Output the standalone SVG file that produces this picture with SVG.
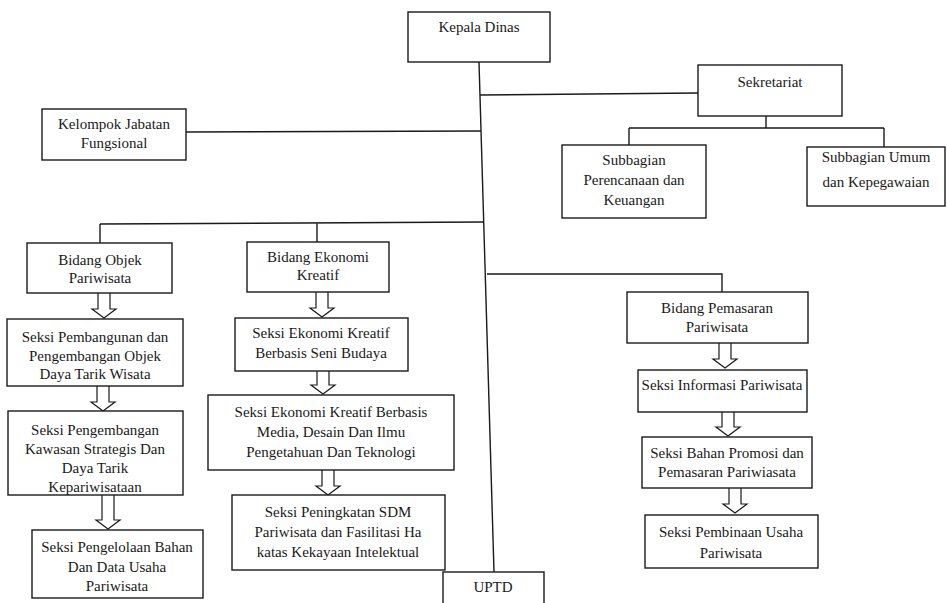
<svg xmlns="http://www.w3.org/2000/svg" width="947" height="603" viewBox="0 0 947 603">
<style>
.box{fill:#fff;stroke:#1a1a1a;stroke-width:1.4}
.ln{fill:none;stroke:#1a1a1a;stroke-width:1.4}
.arr{fill:#fff;stroke:#1a1a1a;stroke-width:1.2;stroke-linejoin:miter}
text{font-family:'Liberation Serif','DejaVu Serif',serif;font-size:15px;fill:#1a1a1a;text-anchor:middle}
</style>
<rect width="947" height="603" fill="#fff"/>
<g id="connectors">
<path class="ln" d="M479,62 L494,572"/>
<path class="ln" d="M480,95 L698,93"/>
<path class="ln" d="M766,116 V128 M629,128 H884 M629,128 V145 M884,128 V147"/>
<path class="ln" d="M186,132 L481,131"/>
<path class="ln" d="M100,224 L484,222 M100,224 V243 M317,223 V242"/>
<path class="ln" d="M487,274 H722 V292"/>
<path class="arr" d="M98,293 V309 H92 L104,318 L116,309 H110 V293"/>
<path class="arr" d="M97,386 V402 H91 L103,411 L115,402 H109 V386"/>
<path class="arr" d="M102,495 V520 H96 L108,529 L120,520 H114 V495"/>
<path class="arr" d="M316,292 V308 H310 L322,317 L334,308 H328 V292"/>
<path class="arr" d="M317,371 V385 H311 L323,394 L335,385 H329 V371"/>
<path class="arr" d="M322,470 V486 H316 L328,495 L340,486 H334 V470"/>
<path class="arr" d="M719,343 V359 H713 L725,368 L737,359 H731 V343"/>
<path class="arr" d="M722,412 V427 H716 L728,436 L740,427 H734 V412"/>
<path class="arr" d="M729,488 V504 H723 L735,513 L747,504 H741 V488"/>
</g>
<g font-family="Liberation Serif, serif">
<g id="kepala-dinas"><rect class="box" x="408" y="12" width="142" height="50"/><text x="479" y="32">Kepala Dinas</text></g>
<g id="sekretariat"><rect class="box" x="698" y="65" width="144" height="51"/><text x="770" y="87">Sekretariat</text></g>
<g id="kelompok-jabatan"><rect class="box" x="42" y="109" width="144" height="51"/><text x="114" y="129">Kelompok Jabatan</text><text x="114" y="148">Fungsional</text></g>
<g id="subbagian-perencanaan"><rect class="box" x="562" y="145" width="144" height="73"/><text x="634" y="165">Subbagian</text><text x="634" y="185">Perencanaan dan</text><text x="634" y="205">Keuangan</text></g>
<g id="subbagian-umum"><rect class="box" x="807" y="147" width="138" height="59"/><text x="876" y="162">Subbagian Umum</text><text x="876" y="187">dan Kepegawaian</text></g>
<g id="bidang-objek"><rect class="box" x="27" y="243" width="145" height="50"/><text x="100" y="265">Bidang Objek</text><text x="100" y="283">Pariwisata</text></g>
<g id="seksi-pembangunan"><rect class="box" x="7" y="319" width="176" height="67"/><text x="95" y="342">Seksi Pembangunan dan</text><text x="95" y="361">Pengembangan Objek</text><text x="95" y="379">Daya Tarik Wisata</text></g>
<g id="seksi-pengembangan"><rect class="box" x="8" y="411" width="175" height="84"/><text x="95" y="435">Seksi Pengembangan</text><text x="95" y="454">Kawasan Strategis Dan</text><text x="95" y="473">Daya Tarik</text><text x="95" y="492">Kepariwisataan</text></g>
<g id="seksi-pengelolaan"><rect class="box" x="32" y="530" width="171" height="68"/><text x="117" y="552">Seksi Pengelolaan Bahan</text><text x="117" y="572">Dan Data Usaha</text><text x="117" y="591">Pariwisata</text></g>
<g id="bidang-ekonomi"><rect class="box" x="247" y="242" width="142" height="50"/><text x="318" y="262">Bidang Ekonomi</text><text x="318" y="280">Kreatif</text></g>
<g id="seksi-ek-seni"><rect class="box" x="235" y="318" width="173" height="53"/><text x="321" y="338">Seksi Ekonomi Kreatif</text><text x="321" y="358">Berbasis Seni Budaya</text></g>
<g id="seksi-ek-media"><rect class="box" x="208" y="395" width="246" height="75"/><text x="331" y="417">Seksi Ekonomi Kreatif Berbasis</text><text x="331" y="437">Media, Desain Dan Ilmu</text><text x="331" y="457">Pengetahuan Dan Teknologi</text></g>
<g id="seksi-sdm"><rect class="box" x="232" y="495" width="213" height="75"/><text x="338" y="517">Seksi Peningkatan SDM</text><text x="338" y="537">Pariwisata dan Fasilitasi Ha</text><text x="338" y="557">katas Kekayaan Intelektual</text></g>
<g id="uptd"><rect class="box" x="443" y="572" width="101" height="40"/><text x="493" y="592">UPTD</text></g>
<g id="bidang-pemasaran"><rect class="box" x="627" y="292" width="181" height="51"/><text x="717" y="313">Bidang Pemasaran</text><text x="717" y="332">Pariwisata</text></g>
<g id="seksi-informasi"><rect class="box" x="638" y="370" width="169" height="42"/><text x="722" y="390">Seksi Informasi Pariwisata</text></g>
<g id="seksi-bahan"><rect class="box" x="642" y="437" width="170" height="51"/><text x="727" y="458">Seksi Bahan Promosi dan</text><text x="727" y="477">Pemasaran Pariwiasata</text></g>
<g id="seksi-pembinaan"><rect class="box" x="645" y="515" width="173" height="53"/><text x="731" y="537">Seksi Pembinaan Usaha</text><text x="731" y="558">Pariwisata</text></g>
</g>
</svg>
